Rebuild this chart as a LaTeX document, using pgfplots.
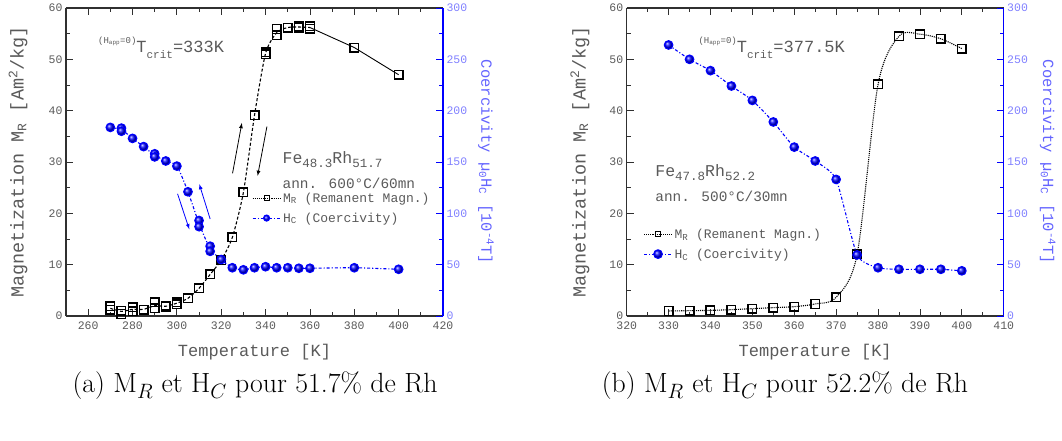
\documentclass[border=0pt]{standalone}
\usepackage{pgfplots}
\pgfplotsset{compat=1.18}
\usepackage{fontspec}
\newfontfamily\cour{Liberation Mono}
\definecolor{txtgray}{HTML}{5A5A5A}
\definecolor{rblue}{HTML}{6464FF}
\definecolor{lblue}{HTML}{8080FF}
\definecolor{dblue}{HTML}{0000FF}
\definecolor{axgray}{HTML}{303030}
\newcommand\sub[1]{\textsubscript{#1}}
\newcommand\sups[1]{\textsuperscript{#1}}

\pgfplotsset{
  common/.style={
    scale only axis, width=377pt, height=308pt,
    ymin=0, ymax=60,
    tick align=inside,
    major tick length=7pt, minor tick length=4pt,
    /pgf/number format/assume math mode=true,
    tick label style={font=\cour\fontsize{11.5}{12}\selectfont, text=txtgray},
    xticklabel style={yshift=-2.5pt},
    label style={text=txtgray},
    every axis x label/.style={at={(axis description cs:0.5,-0.117)}, anchor=center, font=\cour\fontsize{17}{18}\selectfont, text=txtgray},
    clip=false,
  },
  leftax/.style={
    common,
    axis y line*=left, axis x line*=box,
    xtick pos=both,
    x axis line style={line width=1.4pt, axgray},
    y axis line style={line width=1.4pt, axgray},
    every tick/.style={axgray, line width=0.8pt},
    ytick={0,10,...,60}, minor y tick num=1,
    minor x tick num=1,
    every axis y label/.style={rotate=90, anchor=center, font=\cour\fontsize{18.5}{19}\selectfont, text=txtgray},
    ylabel={Magnetization M\sub{R} [Am\sups{2}/kg]},
    xlabel={Temperature [K]},
  },
  rightax/.style={
    common,
    ymin=0, ymax=300,
    axis y line*=right, axis x line=none,
    ytick={0,50,...,300}, minor y tick num=1,
    y axis line style={line width=1.4pt, dblue},
    every tick/.style={dblue, line width=0.8pt},
    yticklabel style={text=lblue},
    every axis y label/.style={rotate=-90, anchor=center, font=\cour\fontsize{15.5}{16}\selectfont, text=rblue},
    ylabel={Coercivity \textmu\sub{0}H\sub{C} [10\sups{-4}T]},
    legend style={draw=none, fill=none, font=\cour\fontsize{13}{14}\selectfont, text=txtgray, anchor=north west, row sep=5pt, legend cell align=left},
    legend image code/.code={\draw[#1] (0pt,0pt) -- (28pt,0pt); \draw[#1, only marks] plot coordinates {(14pt,0pt)};},
  },
  mrstyle/.style={black, line width=1.1pt, densely dashed, mark=square, mark size=4.3pt, mark options={solid, fill=white, line width=1.4pt}},
  mrleg/.style={black, line width=1.1pt, densely dotted, mark=square, mark size=2.5pt, mark options={solid, fill=white, line width=1pt}},
  hcstyle/.style={dblue, line width=1.1pt, dash dot, mark=ball, mark size=4.3pt, mark options={solid, ball color=dblue}},
  hcleg/.style={dblue, line width=1.1pt, dash dot, mark=ball, mark size=3pt, mark options={solid, ball color=dblue}},
}

\begin{document}
\begin{tikzpicture}[x=1pt,y=1pt]
\useasboundingbox (0,0) rectangle (1062,-440);

%================ Panel (a) ================
\begin{axis}[leftax, at={(66pt,-316pt)}, anchor=south west,
  xmin=250, xmax=420, xtick={260,280,...,420},
  every axis y label/.append style={at={(axis description cs:-0.127,0.5)}}]
% MR marks (all measured points)
\addplot[mrstyle, only marks] coordinates {
 (270,1.9) (270,1.2) (275,1.0) (275,0.4) (280,1.7) (280,0.9) (285,1.25)
 (290,2.7) (290,1.5) (295,2.0) (295,1.8) (300,2.7) (300,2.3) (305,3.45)
 (310,5.4) (315,8.1) (320,10.9) (325,15.3) (330,24.1) (335,39.1)
 (340,51.0) (340,51.4) (345,55.9) (345,54.7) (350,56.2) (355,56.4) (355,56.2)
 (360,56.4) (360,56.0) (380,52.3) (400,47.0)};
% MR curve
\addplot[black, line width=1.1pt, densely dashed, smooth, tension=0.4] coordinates {
 (270,1.5) (275,0.9) (280,1.3) (285,1.3) (290,2.0) (295,1.9) (300,2.5) (305,3.45)
 (310,5.4) (315,8.1) (320,10.9) (325,15.3) (330,24.1) (335,39.1) (340,51.2)
 (345,55.2) (350,56.2) (355,56.3) (360,56.2)};
\addplot[black, line width=0.9pt] coordinates {(360,56.2) (380,52.3) (400,47.0)};
% arrows
\draw[-latex, black, line width=0.8pt] (axis cs:325.1,27.8) -- (axis cs:329.3,37.6);
\draw[-latex, black, line width=0.8pt] (axis cs:340.6,36.9) -- (axis cs:336.4,27.3);
\draw[-latex, dblue, line width=0.8pt] (axis cs:300.3,23.8) -- (axis cs:305.6,16.9);
\draw[-latex, dblue, line width=0.8pt] (axis cs:315.0,18.9) -- (axis cs:310.1,25.7);
% annotations
\node[anchor=west, text=txtgray, font=\cour\fontsize{17}{18}\selectfont, inner sep=0pt] at (axis cs:264.4,52.3)
  {\raisebox{1.1ex}{\fontsize{9}{10}\selectfont(H\sub{app}=0)}T\raisebox{-0.6ex}{\fontsize{11}{12}\selectfont crit}=333K};
\node[anchor=west, text=txtgray, font=\cour\fontsize{16.5}{18}\selectfont, inner sep=0pt] at (axis cs:347.6,30.5)
  {Fe\raisebox{-0.5ex}{\fontsize{12.5}{13}\selectfont 48.3}Rh\raisebox{-0.5ex}{\fontsize{12.5}{13}\selectfont 51.7}};
\node[anchor=west, text=txtgray, font=\cour\fontsize{14.4}{16}\selectfont, inner sep=0pt] at (axis cs:347.6,25.9)
  {ann. 600\textdegree C/60mn};
\end{axis}

\begin{axis}[rightax, at={(66pt,-316pt)}, anchor=south west,
  xmin=250, xmax=420,
  every axis y label/.append style={at={(axis description cs:1.114,0.5)}},
  legend style={at={(axis description cs:0.485,0.414)}}]
\addlegendimage{mrleg}
\addlegendentry{M\sub{R} (Remanent Magn.)}
\addplot[hcstyle, only marks, forget plot] coordinates {
 (270,183.7) (275,183) (275,180) (280,173) (285,165) (290,158) (290,155)
 (295,151) (300,146) (305,121) (310,93) (310,87) (315,68) (315,63) (320,55)
 (325,47) (330,45) (335,47) (340,48) (345,47) (350,47) (355,46.5) (360,46.5)
 (380,47) (400,45.5)};
\addplot[dblue, line width=1.1pt, dash dot, smooth, tension=0.4, forget plot] coordinates {
 (270,183.5) (275,181.5) (280,173) (285,165) (290,156.5) (295,151) (300,146)
 (305,121) (310,90) (315,65.5) (320,55) (325,47) (330,45) (335,47) (340,48)
 (345,47) (350,47) (355,46.5) (360,46.5) (380,47) (400,45.5)};
\addlegendimage{hcleg}
\addlegendentry{H\sub{C} (Coercivity)}
\end{axis}

%================ Panel (b) ================
\begin{axis}[leftax, at={(626.7pt,-316pt)}, anchor=south west,
  xmin=320, xmax=410, xtick={320,330,...,410},
  every axis y label/.append style={at={(axis description cs:-0.124,0.5)}}]
\addplot[mrstyle, densely dotted, smooth, tension=0.5] coordinates {
 (330,0.98) (335,1.04) (340,1.1) (345,1.24) (350,1.43) (355,1.63) (360,1.82)
 (365,2.35) (370,3.65) (375,12.0) (380,45.1) (385,54.5) (390,54.9) (395,54.0) (400,52.1)};
\node[anchor=west, text=txtgray, font=\cour\fontsize{17}{18}\selectfont, inner sep=0pt] at (axis cs:337.1,52.3)
  {\raisebox{1.1ex}{\fontsize{9}{10}\selectfont(H\sub{app}=0)}T\raisebox{-0.6ex}{\fontsize{11}{12}\selectfont crit}=377.5K};
\node[anchor=west, text=txtgray, font=\cour\fontsize{16.5}{18}\selectfont, inner sep=0pt] at (axis cs:326.8,28.0)
  {Fe\raisebox{-0.5ex}{\fontsize{12.5}{13}\selectfont 47.8}Rh\raisebox{-0.5ex}{\fontsize{12.5}{13}\selectfont 52.2}};
\node[anchor=west, text=txtgray, font=\cour\fontsize{14.4}{16}\selectfont, inner sep=0pt] at (axis cs:326.8,23.4)
  {ann. 500\textdegree C/30mn};
\end{axis}

\begin{axis}[rightax, at={(626.7pt,-316pt)}, anchor=south west,
  xmin=320, xmax=410,
  every axis y label/.append style={at={(axis description cs:1.117,0.5)}},
  legend style={at={(axis description cs:0.036,0.297)}}]
\addlegendimage{mrleg}
\addlegendentry{M\sub{R} (Remanent Magn.)}
\addplot[hcstyle, smooth, tension=0.35] coordinates {
 (330,264) (335,250) (340,239) (345,224) (350,210) (355,189) (360,164.5)
 (365,151) (370,133) (375,59.5) (380,47) (385,45.5) (390,45.5) (395,45.5) (400,44)};
\addlegendentry{H\sub{C} (Coercivity)}
\end{axis}

% captions
\node[font=\fontsize{27.8}{32}\selectfont] at (255,-386) {(a) M$_R$ et H$_C$ pour 51.7\% de Rh};
\node[font=\fontsize{27.8}{32}\selectfont] at (785,-386) {(b) M$_R$ et H$_C$ pour 52.2\% de Rh};
\end{tikzpicture}
\end{document}
